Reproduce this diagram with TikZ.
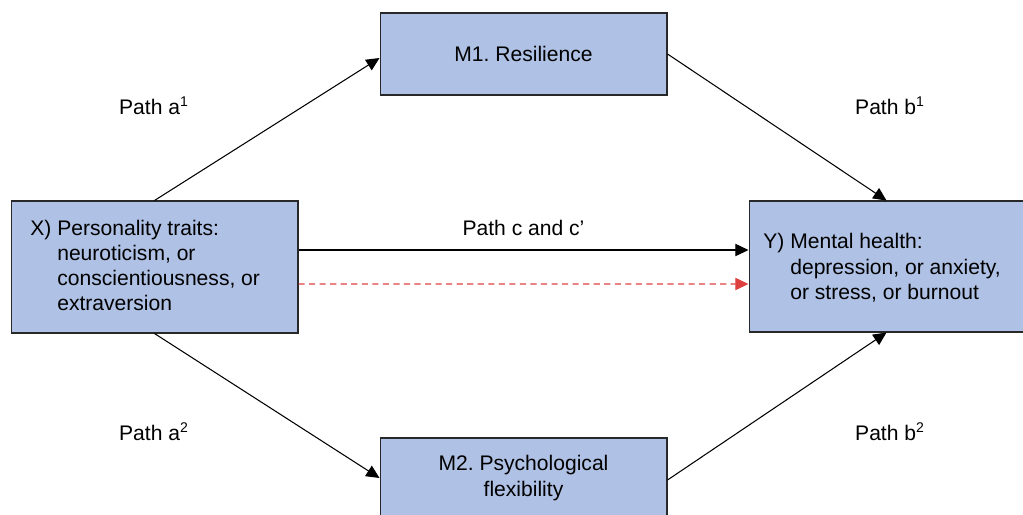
\documentclass[tikz,border=0pt]{standalone}
\usepackage{fontspec}
\setmainfont{Liberation Sans}
\usetikzlibrary{arrows.meta,calc}
\definecolor{boxfill}{RGB}{175,193,228}
\definecolor{boxline}{RGB}{40,40,40}
\definecolor{dashred}{RGB}{222,64,64}
\frenchspacing
\begin{document}
\begin{tikzpicture}[x=0.02cm,y=-0.02cm,
  every node/.style={font=\fontsize{12}{14.3}\selectfont},
  varbox/.style={draw=boxline,fill=boxfill,line width=0.6pt,inner sep=0pt},
  boxtext/.style={inner sep=0pt,align=left},
  link/.style={line width=0.6pt,-{Triangle[length=7.5pt,width=7pt]}},
  pathlabel/.style={inner sep=0pt}]
\useasboundingbox (0,0) rectangle (1023,514);

% boxes
\node[varbox,minimum width=5.74cm,minimum height=2.64cm] (X) at (154.5,267) {};
\node[varbox,minimum width=5.5cm,minimum height=2.62cm] (Y) at (886.5,266.5) {};
\node[varbox,minimum width=5.74cm,minimum height=1.64cm] (M1) at (523.5,54) {M1. Resilience};
\node[varbox,minimum width=5.74cm,minimum height=1.6cm,align=center] (M2) at (523.5,478) {};

% box texts
\node[boxtext,anchor=west] (Xtext) at (30,268) {%
  \def\arraystretch{1}\begin{tabular}{@{}l@{\ }l@{}}
  X) & Personality traits:\\
     & neuroticism, or\\
     & conscientiousness, or\\
     & extraversion
  \end{tabular}};
\node[boxtext,anchor=west] (Ytext) at (763,269) {%
  \def\arraystretch{1}\begin{tabular}{@{}l@{\ }l@{}}
  Y) & Mental health:\\
     & depression, or anxiety,\\
     & or stress, or burnout
  \end{tabular}};
\node[boxtext,align=center] (M2text) at (523.5,478) {M2. Psychological\\flexibility};

% connectors
\draw[link] (X.north) -- ($(M1.west)+(0,4)$);
\draw[link] (M1.east) -- (Y.north);
\draw[link] (X.south) -- (M2.west);
\draw[link] ($(M2.east)+(0,2)$) -- (Y.south);
\draw[link] ($(X.east)+(0,-17)$) -- ($(Y.west)+(0,-16.5)$);
\draw[link,draw=dashred,dash pattern=on 3.5pt off 2.5pt,
  -{Triangle[length=7.5pt,width=7pt,fill=dashred]}]
  ($(X.east)+(0,17)$) -- ($(Y.west)+(0,17.5)$);

% path labels
\node[pathlabel] (pa1) at (154,106) {Path a\textsuperscript{1}};
\node[pathlabel] (pb1) at (890,106) {Path b\textsuperscript{1}};
\node[pathlabel] (pa2) at (154,432) {Path a\textsuperscript{2}};
\node[pathlabel] (pb2) at (890,432) {Path b\textsuperscript{2}};
\node[pathlabel] (pc) at (523.5,228) {Path c and c’};
\end{tikzpicture}
\end{document}
